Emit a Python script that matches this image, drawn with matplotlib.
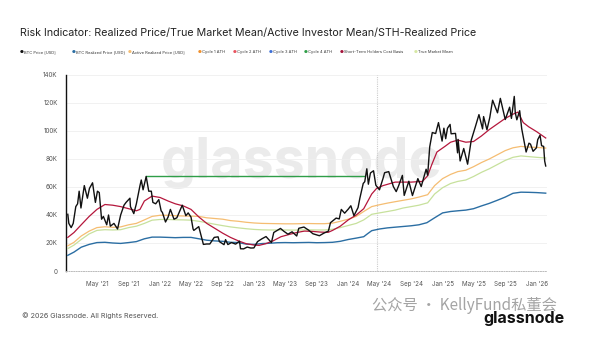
import pandas as pd
import matplotlib
matplotlib.use("Agg")
from matplotlib import pyplot as plt

# BTC price [USD], thousands
price_dates = ["2021-01-08","2021-01-12","2021-01-21","2021-01-29","2021-02-08","2021-02-15","2021-02-21","2021-02-28",
    "2021-03-13","2021-03-25","2021-04-02","2021-04-14","2021-04-25","2021-05-03","2021-05-10","2021-05-19","2021-05-26",
    "2021-06-08","2021-06-15","2021-06-22","2021-07-06","2021-07-20","2021-08-01","2021-08-14","2021-08-22","2021-09-06",
    "2021-09-08","2021-09-21","2021-10-01","2021-10-15","2021-10-20","2021-10-27","2021-11-08","2021-11-18","2021-11-28",
    "2021-12-04","2021-12-15","2021-12-27","2022-01-05","2022-01-10","2022-01-22","2022-02-01","2022-02-10","2022-02-24",
    "2022-03-07","2022-03-28","2022-04-11","2022-04-20","2022-05-01","2022-05-09","2022-05-12","2022-05-31","2022-06-13",
    "2022-06-18","2022-07-01","2022-07-13","2022-07-30","2022-08-14","2022-08-19","2022-09-06","2022-09-12","2022-09-21",
    "2022-10-05","2022-10-21","2022-11-05","2022-11-09","2022-11-21","2022-12-05","2022-12-19","2022-12-31","2023-01-14",
    "2023-01-31","2023-02-16","2023-03-09","2023-03-18","2023-04-13","2023-04-26","2023-05-12","2023-05-28","2023-06-15",
    "2023-06-23","2023-07-13","2023-07-31","2023-08-17","2023-09-11","2023-09-28","2023-10-16","2023-10-24","2023-11-15",
    "2023-11-27","2023-12-05","2023-12-18","2024-01-01","2024-01-11","2024-01-23","2024-02-08","2024-02-15","2024-02-28",
    "2024-03-05","2024-03-13","2024-03-19","2024-03-27","2024-04-08","2024-04-17","2024-05-01","2024-05-15","2024-05-21",
    "2024-06-06","2024-06-24","2024-07-05","2024-07-14","2024-07-29","2024-08-05","2024-08-23","2024-09-06","2024-09-27",
    "2024-10-10","2024-10-29","2024-11-04","2024-11-12","2024-11-22","2024-12-05","2024-12-16","2024-12-30","2025-01-06",
    "2025-01-13","2025-01-20","2025-01-30","2025-02-03","2025-02-20","2025-02-28","2025-03-02","2025-03-10","2025-03-24",
    "2025-04-08","2025-04-22","2025-05-08","2025-05-22","2025-06-05","2025-06-09","2025-06-22","2025-07-03","2025-07-14",
    "2025-08-02","2025-08-13","2025-09-01","2025-09-18","2025-09-25","2025-10-06","2025-10-10","2025-10-16","2025-10-27",
    "2025-11-04","2025-11-21","2025-12-02","2025-12-08","2025-12-18","2025-12-31","2026-01-05","2026-01-14","2026-01-20",
    "2026-01-28","2026-02-01","2026-02-05"]
price = [40.5,34,31,34,46,48,57,45,
    61,52,59,63,49,57,56,37,39,
    33,40,32,34,30,40,47,49,52,
    46,41,48,61,65,58,67.5,57,57,
    49,48,51,43,41.8,35,38.5,44,37,
    38,47,39.5,41.5,38.5,30,29,31.7,22.5,
    19,19.3,19.3,24,24.4,21,18.8,22.4,18.9,
    20.3,19.2,21.3,15.9,15.8,17.1,16.4,16.5,21,
    23,24.6,20.3,27.5,30.4,28.4,26.3,28,25,
    30.5,31.4,29.2,26.6,25.2,27,28.5,34.5,37.8,
    37.2,44,41.3,44.2,46.6,39.5,45.3,52,62.5,
    63.8,73,62,70,71.6,61.3,58,66.2,70.2,
    71,60.3,56.7,60.7,68.3,54,64.1,53.9,66,
    60.3,72.7,68.4,88.7,98.9,98.2,106,92.8,102,
    94.5,102,104.7,98,98.3,84.4,94,78.6,87.5,
    76.3,93.4,103,111.7,101.5,110.3,100.9,109.6,122,
    113,123.3,108.2,117,109,124.7,113,108,114.5,
    101.5,85,91.3,90.6,85.5,88,93.8,97,89.5,
    89,78.5,75]

# realized price (blue)
rp_dates = ["2021-01-08","2021-02-01","2021-03-01","2021-04-01","2021-05-01","2021-06-01","2021-07-01","2021-08-01",
    "2021-09-01","2021-10-01","2021-11-01","2021-12-01","2022-01-01","2022-02-01","2022-03-01","2022-04-01","2022-05-01",
    "2022-06-01","2022-07-01","2022-08-01","2022-09-01","2022-10-01","2022-11-01","2022-12-01","2023-01-01","2023-02-01",
    "2023-03-01","2023-04-01","2023-05-01","2023-06-01","2023-07-01","2023-08-01","2023-09-01","2023-10-01","2023-11-01",
    "2023-12-01","2024-01-01","2024-02-01","2024-03-01","2024-03-15","2024-04-01","2024-05-01","2024-06-01","2024-07-01",
    "2024-08-01","2024-09-01","2024-10-01","2024-11-01","2024-12-01","2025-01-01","2025-02-01","2025-03-01","2025-04-01",
    "2025-05-01","2025-06-01","2025-07-01","2025-08-01","2025-09-01","2025-10-01","2025-11-01","2025-12-01","2026-01-01",
    "2026-02-05"]
realized = [11.2,13.5,17,19,20.3,20.5,20,19.7,
    20.3,21,23,24.2,24.2,24,23.8,24,24,
    23,22,21.5,21.2,20.5,20.3,19.2,19,19.6,
    19.8,20.2,20.3,20.2,20.3,20.4,20.2,20.3,20.5,
    21.2,22.5,23.5,24.5,26.5,28.8,30,30.8,31.3,
    31.8,32.3,33,34.5,38,41.5,42.5,43,43.5,
    44.5,46.5,48.3,50.5,52.8,55.5,56.3,56.2,56,
    55.6]

# active realized price (orange) and true market mean (light green), monthly
mm_dates = ["2021-01-08","2021-02-01","2021-03-01","2021-04-01","2021-05-01","2021-06-01","2021-07-01","2021-08-01",
    "2021-09-01","2021-10-01","2021-11-01","2021-12-01","2022-01-01","2022-02-01","2022-03-01","2022-04-01","2022-05-01",
    "2022-06-01","2022-07-01","2022-08-01","2022-09-01","2022-10-01","2022-11-01","2022-12-01","2023-01-01","2023-02-01",
    "2023-03-01","2023-04-01","2023-05-01","2023-06-01","2023-07-01","2023-08-01","2023-09-01","2023-10-01","2023-11-01",
    "2023-12-01","2024-01-01","2024-02-01","2024-03-01","2024-04-01","2024-05-01","2024-06-01","2024-07-01","2024-08-01",
    "2024-09-01","2024-10-01","2024-11-04","2024-12-01","2025-01-01","2025-02-01","2025-03-01","2025-04-01","2025-05-01",
    "2025-06-01","2025-07-01","2025-08-01","2025-09-01","2025-10-01","2025-11-01","2025-12-01","2026-01-01","2026-02-05"]
active = [18,20.5,25,28.5,31,31.6,31.2,31.5,
    33,34,36.5,39,39.8,39.8,39.5,39.3,39.2,
    39,38,37.5,37,36,35.5,34.8,34.3,34,
    33.9,33.8,33.7,33.7,33.8,33.9,33.8,33.8,34.2,
    35.5,37,39,42.5,46,47.3,48.5,49.5,50.5,
    51.5,52.8,54.5,61,66,69,71,72,74.5,
    77.5,80,83,86,88,89,88.5,88.3,87.8]
true_mean = [16,18.5,22.5,26.5,29,29.5,29.3,29.5,
    31,32,34,36.3,36.8,36.8,36.6,36.5,36.3,
    35.5,34.5,33.4,32.4,31.5,30.8,30.2,29.7,29.4,
    29.3,29.3,29.3,29.2,29.3,29.4,29.3,29.3,29.8,
    31,32.5,34,36.5,40.5,41.5,42.5,43.5,45,
    46,47,48.7,55,59.5,62.5,64,65,67.5,
    70.5,73,76,79,81.2,82.2,81.7,81.2,80.7]

# short-term holder cost basis (dark red)
sth_dates = ["2021-01-08","2021-02-01","2021-03-01","2021-04-01","2021-05-01","2021-06-01","2021-07-01","2021-08-01",
    "2021-09-01","2021-10-01","2021-10-15","2021-11-01","2021-12-01","2022-01-01","2022-02-01","2022-03-01","2022-04-01",
    "2022-05-01","2022-06-01","2022-07-01","2022-08-01","2022-09-01","2022-10-01","2022-11-01","2022-12-01","2023-01-01",
    "2023-01-20","2023-02-15","2023-03-15","2023-04-15","2023-05-15","2023-06-15","2023-07-15","2023-08-15","2023-09-15",
    "2023-10-15","2023-11-01","2023-12-01","2024-01-01","2024-02-01","2024-03-01","2024-04-01","2024-04-20","2024-05-15",
    "2024-07-01","2024-09-01","2024-10-15","2024-11-04","2024-11-20","2024-12-10","2025-01-10","2025-02-01","2025-03-01",
    "2025-04-01","2025-05-01","2025-06-01","2025-07-01","2025-08-01","2025-09-01","2025-10-01","2025-10-20","2025-11-10",
    "2025-12-01","2026-01-01","2026-02-05"]
sth = [24,27.5,33,39,44,47.5,47,46,
    44.5,43,44,50,53.5,52.5,50,48,46.5,
    44,38.5,34,30.5,27,24,21.5,19.5,18.5,
    18.3,19.5,21.5,24.5,26,27.5,28.5,28.3,27.8,
    27.6,29,32,36.5,40,44.5,55,59,61,
    63.5,63.5,64,68,76,85,89,92,93.5,
    92,92.5,96.5,101,105,109,112,113.5,106,
    103,99.5,95]

ath_start, ath_end, ath_value = "2021-11-08", "2024-03-04", 67.5
halving = "2024-04-20"

yticks = [0, 20, 40, 60, 80, 100, 120, 140]
ytick_labels = ["0", "20K", "40K", "60K", "80K", "100K", "120K", "140K"]

legend_names = ["BTC Price [USD]", "BTC Realized Price [USD]", "Active Realized Price [USD]", "Cycle 1 ATH",
                "Cycle 2 ATH", "Cycle 3 ATH", "Cycle 4 ATH", "Short-Term Holders Cost Basis", "True Market Mean"]
legend_colors = ["#111111", "#2b6ea3", "#f5bd72", "#f0902c", "#e8535f", "#3d6fd6", "#2f9e48", "#a3133a", "#d6e8a4"]
legend_x = [20, 72, 128, 198, 233, 269, 304, 340, 414]

C_PRICE, C_RP, C_ACT, C_STH, C_TMM, C_ATH = "#111111", "#2b6ea3", "#f5bd72", "#b5173c", "#c7e19c", "#2f9e48"

plt.rcParams['font.family'] = ['Inter', 'Noto Sans CJK SC', 'DejaVu Sans']

fig = plt.figure(figsize=(6, 3.39), dpi=100)
ax = fig.add_axes([66/600, 1-271/339, (547-66)/600, (271-75)/339])

d = pd.to_datetime
ax.text(0.49, 0.55, "glassnode", transform=ax.transAxes, ha="center", va="center",
        fontsize=40, fontweight="bold", color="#ebebeb", zorder=0)

ax.plot(d(rp_dates), realized, color=C_RP, lw=1.0, zorder=3)
ax.plot(d(mm_dates), true_mean, color=C_TMM, lw=0.9, zorder=3)
ax.plot(d(mm_dates), active, color=C_ACT, lw=0.9, zorder=3)
ax.plot(d(sth_dates), sth, color=C_STH, lw=0.9, zorder=4)
ax.plot(d([ath_start, ath_end]), [ath_value, ath_value], color=C_ATH, lw=1.0, zorder=4)
ax.plot(d(price_dates), price, color=C_PRICE, lw=1.0, zorder=5)
ax.axvline(d(halving), color="#cccccc", lw=0.8, ls=(0, (1, 1)), zorder=1)

ax.set_xlim(d("2021-01-01"), d("2026-02-10"))
ax.set_ylim(0, 140)
ax.set_yticks(yticks)
ax.set_yticklabels(ytick_labels)
ax.grid(axis="y", color="#efefef", lw=0.6)
ax.set_axisbelow(True)

xt = pd.date_range("2021-05-01", "2026-01-01", freq="4MS")
ax.set_xticks(xt)
ax.set_xticklabels([t.strftime("%b '%y") for t in xt])
ax.tick_params(axis="both", length=0, labelsize=4.5, labelcolor="#555555", pad=7)
ax.tick_params(axis="y", pad=6)

for s in ["top", "right"]:
    ax.spines[s].set_visible(False)
ax.spines["left"].set_color("#111111")
ax.spines["left"].set_linewidth(1.0)
ax.spines["bottom"].set_color("#bbbbbb")
ax.spines["bottom"].set_linestyle((0, (1, 1.5)))
ax.spines["bottom"].set_linewidth(0.7)

fig.text(20/600, 1-33/339, "Risk Indicator: Realized Price/True Market Mean/Active Investor Mean/STH-Realized Price",
         fontsize=7.7, color="#222222", va="center")

for name, c, x in zip(legend_names, legend_colors, legend_x):
    fig.text(x/600, 1-52/339, "\u25cf", color=c, fontsize=3.2, va="center", family="DejaVu Sans")
    fig.text((x+4)/600, 1-52/339, name, color="#333333", fontsize=2.9, va="center")

fig.text(22/600, 1-316/339, "\u00a9 2026 Glassnode. All Rights Reserved.", fontsize=5.2, color="#555555", va="center")
fig.text(565/600, 1-319/339, "glassnode", fontsize=11.5, fontweight="bold", color="#111111", ha="right", va="center")
fig.text(372/600, 1-305/339, "公众号 · KellyFund私董会", fontsize=11, color="#9a9a9a", va="center",
         family=["Noto Sans CJK SC", "DejaVu Sans"], alpha=0.9)

fig.savefig("out.png", dpi=100, facecolor="white")
